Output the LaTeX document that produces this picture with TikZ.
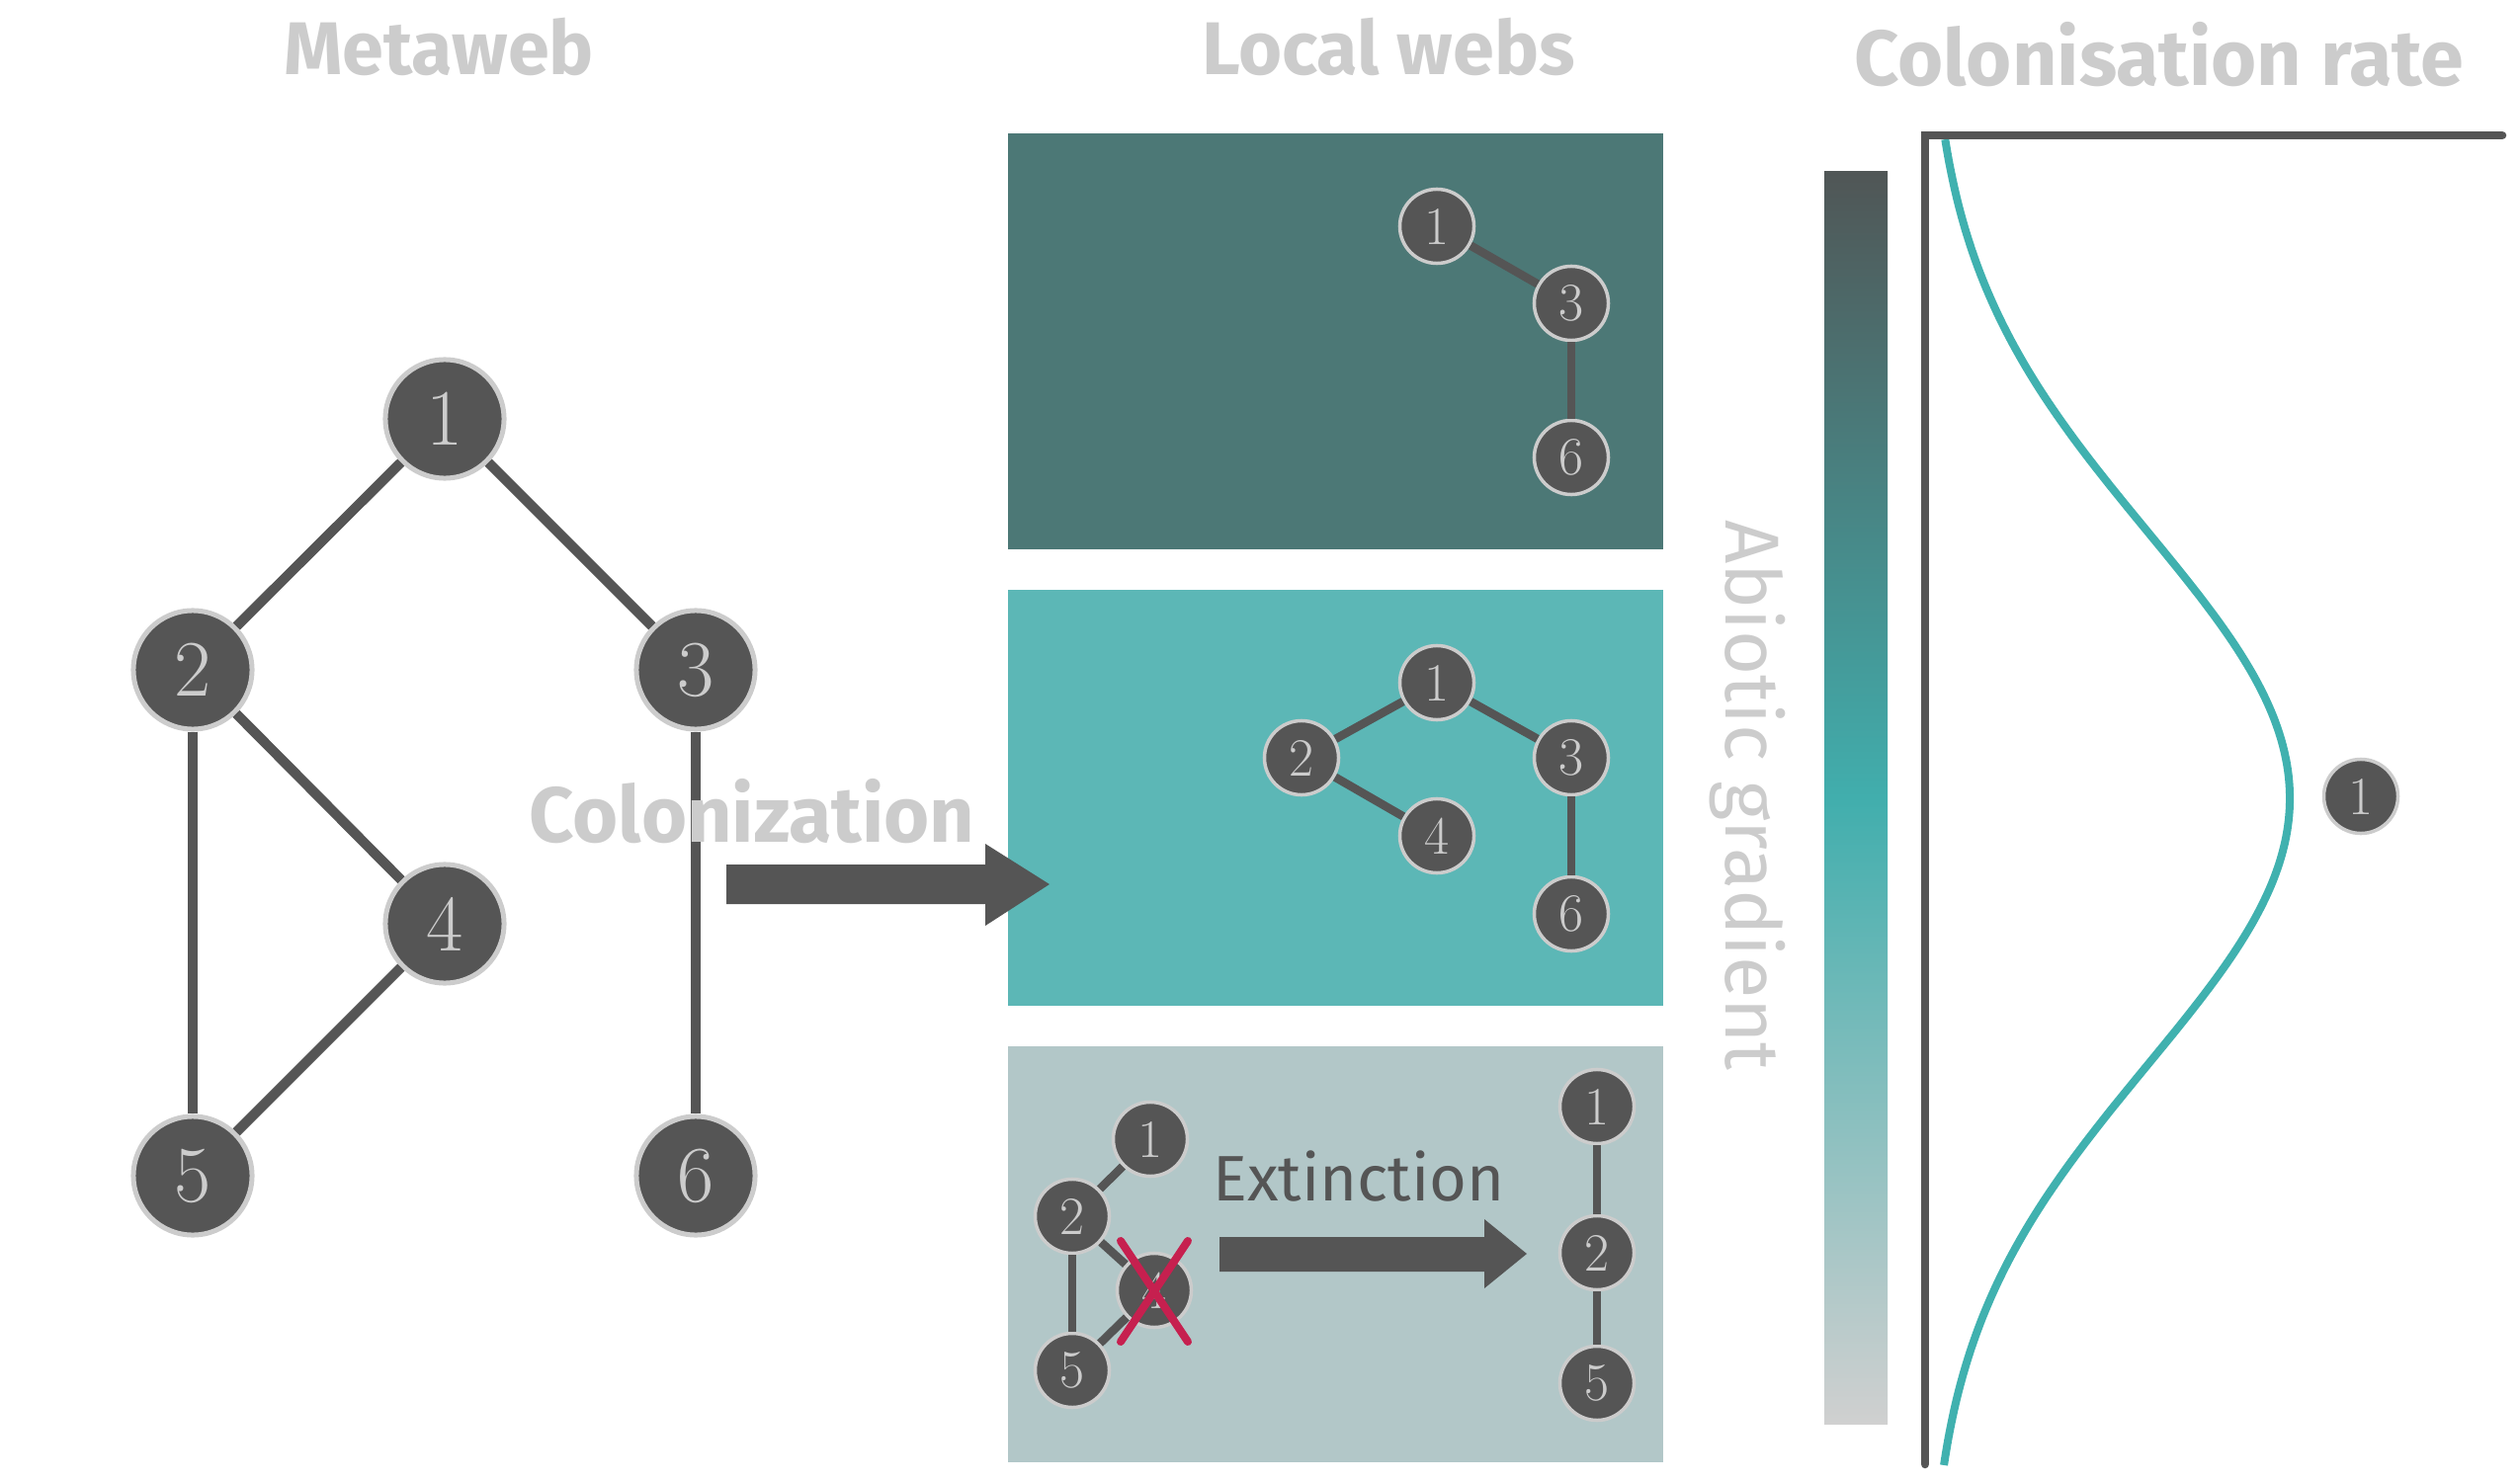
\documentclass[tikz,border=0pt]{standalone}
\usepackage{fontspec}
\newfontfamily\titlefont{Fira Sans}
\newfontfamily\plainfont{Fira Sans}
\usetikzlibrary{calc}
\definecolor{dg}{HTML}{555555}
\definecolor{lg}{HTML}{CCCCCC}
\definecolor{pA}{HTML}{4C7876}
\definecolor{pB}{HTML}{5CB7B6}
\definecolor{pC}{HTML}{B2C7C8}
\definecolor{tealc}{HTML}{40B1AF}
\definecolor{xred}{HTML}{C6204F}
\definecolor{barTop}{HTML}{505656}
\definecolor{barMid}{HTML}{41AEAD}
\definecolor{barBot}{HTML}{D0D0D0}
\begin{document}
\begin{tikzpicture}[x=0.01cm,y=-0.01cm,
  bignode/.style={circle, fill=dg, draw=lg, line width=0.05cm, minimum size=1.2cm, inner sep=0pt, text=lg, font=\fontsize{23}{28}\selectfont},
  smallnode/.style={circle, fill=dg, draw=lg, line width=0.035cm, minimum size=0.75cm, inner sep=0pt, text=lg, font=\fontsize{15.5}{18}\selectfont},
  bigedge/.style={draw=dg, line width=0.1cm},
  smalledge/.style={draw=dg, line width=0.085cm},
  titletext/.style={text=lg, anchor=base, inner sep=0pt, font=\titlefont\bfseries\fontsize{21.5}{25}\selectfont},
  blockarrow/.style={fill=dg},
]
\useasboundingbox (0,0) rectangle (2550,1500);

% titles
\node[titletext] (tmeta) at (444,76) {Metaweb};
\node[titletext] (tlocal) at (1405,76) {Local webs};
\node[titletext, font=\titlefont\bfseries\fontsize{22.5}{26}\selectfont] (trate) at (2185,87) {Colonisation rate};

% metaweb
\node[bignode] (m1) at (450,424) {1};
\node[bignode] (m2) at (195,678) {2};
\node[bignode] (m3) at (704,678) {3};
\node[bignode] (m4) at (450,935) {4};
\node[bignode] (m5) at (195,1190) {5};
\node[bignode] (m6) at (704,1190) {6};
\path[bigedge] (m1) -- (m2);
\path[bigedge] (m1) -- (m3);
\path[bigedge] (m2) -- (m4);
\path[bigedge] (m2) -- (m5);
\path[bigedge] (m4) -- (m5);
\path[bigedge] (m3) -- (m6);

% panels
\fill[pA] (1020,135) rectangle (1683,556);
\fill[pB] (1020,597) rectangle (1683,1018);
\fill[pC] (1020,1059) rectangle (1683,1480);

% colonization arrow and label
\fill[blockarrow] (735,875) -- (997,875) -- (997,854) -- (1062,895) -- (997,937) -- (997,915) -- (735,915) -- cycle;
\node[titletext, font=\titlefont\bfseries\fontsize{22.5}{26}\selectfont] (tcol) at (761,852) {Colonization};

% panel A
\node[smallnode] (a1) at (1454,229) {1};
\node[smallnode] (a3) at (1590,307) {3};
\node[smallnode] (a6) at (1590,463) {6};
\path[smalledge] (a1) -- (a3);
\path[smalledge] (a3) -- (a6);

% panel B
\node[smallnode] (b1) at (1454,691) {1};
\node[smallnode] (b2) at (1317,767) {2};
\node[smallnode] (b3) at (1590,767) {3};
\node[smallnode] (b4) at (1454,846) {4};
\node[smallnode] (b6) at (1590,925) {6};
\path[smalledge] (b1) -- (b2);
\path[smalledge] (b1) -- (b3);
\path[smalledge] (b2) -- (b4);
\path[smalledge] (b3) -- (b6);

% panel C
\node[smallnode] (c1) at (1164,1153) {1};
\node[smallnode] (c2) at (1085,1231) {2};
\node[smallnode] (c4) at (1168,1306) {4};
\node[smallnode] (c5) at (1085,1387) {5};
\path[smalledge] (c1) -- (c2);
\path[smalledge] (c2) -- (c4);
\path[smalledge] (c2) -- (c5);
\path[smalledge] (c4) -- (c5);
\draw[xred, line width=0.08cm, line cap=round] ($(c4.center)+(-34,-50)$) -- ($(c4.center)+(34,52)$);
\draw[xred, line width=0.08cm, line cap=round] ($(c4.center)+(34,-50)$) -- ($(c4.center)+(-34,52)$);

\node[smallnode] (d1) at (1616,1120) {1};
\node[smallnode] (d2) at (1616,1268) {2};
\node[smallnode] (d5) at (1616,1400) {5};
\path[smalledge] (d1) -- (d2);
\path[smalledge] (d2) -- (d5);

\fill[blockarrow] (1234,1252) -- (1502,1252) -- (1502,1234) -- (1545,1269) -- (1502,1304) -- (1502,1287) -- (1234,1287) -- cycle;
\node[text=dg, anchor=base, inner sep=0pt, font=\plainfont\fontsize{18.5}{22}\selectfont] (text) at (1375,1215) {Extinction};

% abiotic gradient
\node[rotate=-90, text=lg, inner sep=0pt, font=\plainfont\fontsize{22}{26}\selectfont] (tab) at (1768,805) {Abiotic gradient};
\shade[top color=barTop, bottom color=barBot, middle color=barMid] (1846,174) rectangle (1910,1441);

% colonisation rate axes and curve
\draw[tealc, line width=0.08cm] plot[domain=-2.47:2.5, samples=120, smooth] ({1951+366*exp(-0.5*\x*\x)}, {808+270*\x});
\draw[dg, line width=0.085cm, line cap=round, line join=miter] (2532,137) -- (1948,137) -- (1948,1482);
\node[smallnode] (r1) at (2389,806) {1};
\end{tikzpicture}
\end{document}
